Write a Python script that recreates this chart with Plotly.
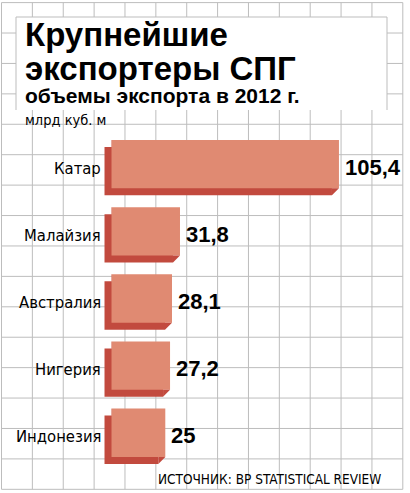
import plotly.graph_objects as go

# ---- data ----
countries = ["Катар", "Малайзия", "Австралия", "Нигерия", "Индонезия"]
values = [105.4, 31.8, 28.1, 27.2, 25]
value_labels = ["105,4", "31,8", "28,1", "27,2", "25"]

title_line1 = "Крупнейшие"
title_line2 = "экспортеры СПГ"
subtitle = "объемы экспорта в 2012 г."
unit_text = "млрд куб. м"
source_text = "ИСТОЧНИК: BP STATISTICAL REVIEW"

# ---- style ----
W, H = 410, 493
FACE = "#E08A72"
DARK = "#C24A3E"
GRID = "#BDBDBD"
DEPTH = 7
BAR_W = 0.72
NARROW = "DejaVu Sans Condensed, Liberation Sans, sans-serif"
BOLD = "Liberation Sans, Arial, sans-serif"


def px_x(p):
    return p / W


def px_y(p):
    return 1 - p / H


face_x_dom = [px_x(111.3), px_x(402.9)]
face_y_dom = [px_y(480), px_y(100)]
shadow_x_dom = [px_x(111.3 - DEPTH), px_x(402.9 - DEPTH)]
shadow_y_dom = [px_y(480 + DEPTH), px_y(100 + DEPTH)]
x_range = [0, 135]
y_range = [4.703, -0.956]

fig = go.Figure()
# shadow (extrusion) bars
fig.add_trace(go.Bar(x=values, y=countries, orientation="h", width=BAR_W,
                     marker=dict(color=DARK, line_width=0),
                     xaxis="x", yaxis="y", hoverinfo="skip", showlegend=False))
# front faces
fig.add_trace(go.Bar(x=values, y=countries, orientation="h", width=BAR_W,
                     marker=dict(color=FACE, line_width=0),
                     xaxis="x2", yaxis="y2", showlegend=False))

ax_common = dict(showgrid=False, zeroline=False, showticklabels=False,
                 ticks="", showline=False, fixedrange=True)

shapes = []
# decorative grid
for k in range(14):
    x = 1.5 + 30.87 * k
    shapes.append(dict(type="line", xref="paper", yref="paper",
                       x0=px_x(x), x1=px_x(x), y0=px_y(2.6), y1=px_y(489.3),
                       line=dict(color=GRID, width=1), layer="below"))
for k in range(17):
    y = 2.6 + 30.42 * k
    shapes.append(dict(type="line", xref="paper", yref="paper",
                       x0=px_x(1.5), x1=px_x(402.8), y0=px_y(y), y1=px_y(y),
                       line=dict(color=GRID, width=1), layer="below"))
# white title box
shapes.append(dict(type="rect", xref="paper", yref="paper",
                   x0=px_x(16), x1=px_x(387), y0=px_y(110), y1=px_y(17),
                   fillcolor="white", line_width=0, layer="below"))
for (xa, ya, xb, yb) in [(16, 110, 16, 17), (16, 17, 387, 17), (387, 17, 387, 110)]:
    shapes.append(dict(type="line", xref="paper", yref="paper",
                       x0=px_x(xa), x1=px_x(xb), y0=px_y(ya), y1=px_y(yb),
                       line=dict(color=GRID, width=1), layer="below"))

# bevel corners of the 3D bars
for i, v in enumerate(values):
    shapes.append(dict(type="path", xref="x2", yref="y2",
                       xsizemode="pixel", ysizemode="pixel",
                       xanchor=0, yanchor=i - BAR_W / 2,
                       path=f"M0,0 L{-DEPTH},{-DEPTH} L0,{-DEPTH} Z",
                       fillcolor=DARK, line_width=0, layer="above"))
    shapes.append(dict(type="path", xref="x2", yref="y2",
                       xsizemode="pixel", ysizemode="pixel",
                       xanchor=v, yanchor=i + BAR_W / 2,
                       path=f"M0,0 L{-DEPTH},{-DEPTH} L{-DEPTH},0 Z",
                       fillcolor=DARK, line_width=0, layer="above"))

annotations = []
for c, v, lab in zip(countries, values, value_labels):
    annotations.append(dict(xref="x2", yref="y2", x=v, y=c, text=lab,
                            xanchor="left", yanchor="middle", xshift=4, yshift=-3,
                            showarrow=False,
                            font=dict(family=BOLD, size=22, color="black", weight="bold")))
    annotations.append(dict(xref="x2", yref="y2", x=0, y=c, text=c,
                            xanchor="right", yanchor="middle", xshift=-8, yshift=-4,
                            showarrow=False,
                            font=dict(family=NARROW, size=16.5, color="black")))

annotations += [
    dict(xref="paper", yref="paper", x=px_x(23), y=px_y(34), text=title_line1,
         xanchor="left", yanchor="middle", showarrow=False,
         font=dict(family=BOLD, size=33, color="black", weight="bold")),
    dict(xref="paper", yref="paper", x=px_x(23), y=px_y(68), text=title_line2,
         xanchor="left", yanchor="middle", showarrow=False,
         font=dict(family=BOLD, size=33, color="black", weight="bold")),
    dict(xref="paper", yref="paper", x=px_x(23), y=px_y(95.5), text=subtitle,
         xanchor="left", yanchor="middle", showarrow=False,
         font=dict(family=BOLD, size=21, color="black", weight="bold")),
    dict(xref="paper", yref="paper", x=px_x(23), y=px_y(120), text=unit_text,
         xanchor="left", yanchor="middle", showarrow=False,
         font=dict(family=NARROW, size=14.5, color="black")),
    dict(xref="paper", yref="paper", x=px_x(156), y=px_y(479), text=source_text,
         xanchor="left", yanchor="middle", showarrow=False,
         font=dict(family=NARROW, size=13.5, color="black")),
]

fig.update_layout(
    width=W, height=H,
    margin=dict(l=0, r=0, t=0, b=0),
    paper_bgcolor="white", plot_bgcolor="rgba(0,0,0,0)",
    showlegend=False, barmode="overlay",
    xaxis=dict(domain=shadow_x_dom, range=x_range, anchor="y", **ax_common),
    yaxis=dict(domain=shadow_y_dom, range=y_range, type="category",
               categoryorder="array", categoryarray=countries, anchor="x", **ax_common),
    xaxis2=dict(domain=face_x_dom, range=x_range, anchor="y2", **ax_common),
    yaxis2=dict(domain=face_y_dom, range=y_range, type="category",
                categoryorder="array", categoryarray=countries, anchor="x2", **ax_common),
    shapes=shapes,
    annotations=annotations,
)

fig.write_html("out.html", config={"displayModeBar": False},
               post_script="document.body.style.margin='0';document.body.style.overflow='hidden';")
